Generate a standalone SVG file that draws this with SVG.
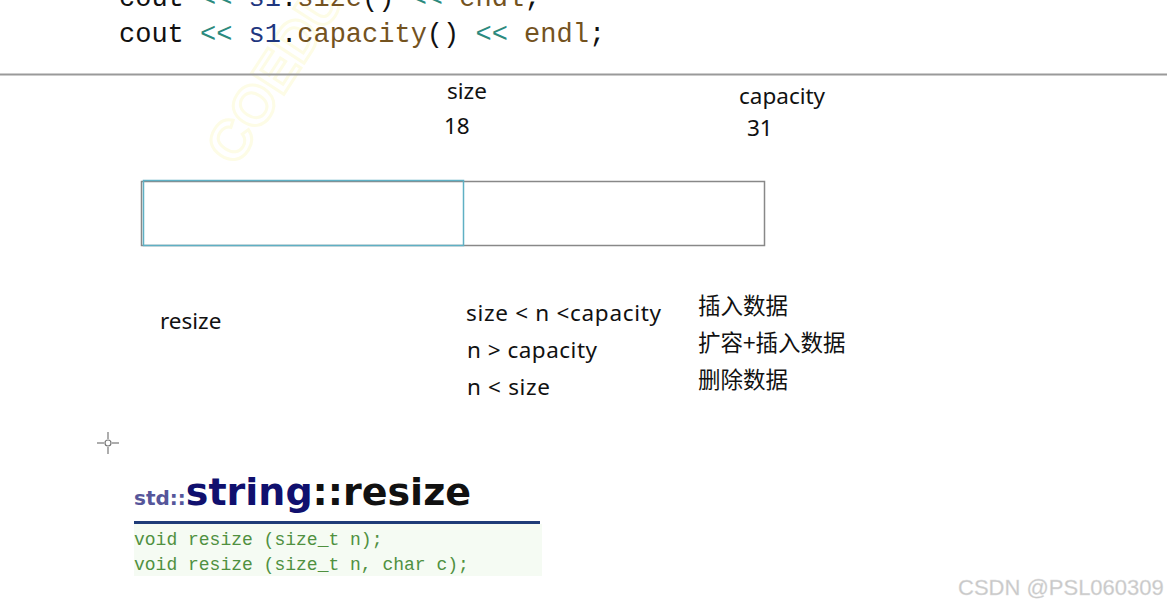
<svg xmlns="http://www.w3.org/2000/svg" width="1167" height="607" viewBox="0 0 1167 607">
<style>
.code{font-family:"Liberation Mono","DejaVu Sans Mono",monospace;font-size:27px}
.k{fill:#111}.op{fill:#2b8a7e}.v{fill:#1f377f}.f{fill:#74531f}
.lbl{font-family:"Noto Sans","Open Sans","Liberation Sans",sans-serif;font-size:22.5px;fill:#111}
.cn{font-family:"Noto Sans CJK SC","Noto Sans",sans-serif;font-size:22.5px;fill:#111}
.sig{font-family:"Liberation Mono","Courier New",monospace;font-size:18px;fill:#4f9040}
</style>
<rect width="1167" height="607" fill="#ffffff"/>
<text x="0" y="0" transform="translate(236,168) rotate(-57)" font-family="Liberation Sans,sans-serif" font-weight="bold" font-size="56" fill="none" stroke="#fdfce6" stroke-width="3">COEDU</text>
<g id="code">
<text class="code" x="119" y="6" xml:space="preserve"><tspan class="k">cout </tspan><tspan class="op">&lt;&lt;</tspan><tspan class="v"> s1</tspan><tspan class="k">.</tspan><tspan class="f">size</tspan><tspan class="k">() </tspan><tspan class="op">&lt;&lt;</tspan><tspan class="f"> endl</tspan><tspan class="k">;</tspan></text>
<text class="code" x="119" y="42" xml:space="preserve"><tspan class="k">cout </tspan><tspan class="op">&lt;&lt;</tspan><tspan class="v"> s1</tspan><tspan class="k">.</tspan><tspan class="f">capacity</tspan><tspan class="k">() </tspan><tspan class="op">&lt;&lt;</tspan><tspan class="f"> endl</tspan><tspan class="k">;</tspan></text>
</g>
<line x1="0" y1="74.5" x2="1167" y2="74.5" stroke="#9a9a9a" stroke-width="2"/>
<g id="labels">
<text class="lbl" x="447" y="99">size</text>
<text class="lbl" x="444" y="134">18</text>
<text class="lbl" x="739" y="104">capacity</text>
<text class="lbl" x="747" y="136">31</text>
</g>
<g id="buffer">
<rect x="141.5" y="181.5" width="623" height="64" fill="none" stroke="#888888" stroke-width="1.5"/>
<rect x="143.5" y="180.5" width="320" height="65" fill="none" stroke="#5fb0c4" stroke-width="1.5"/>
</g>
<g id="cases">
<text class="lbl" x="160" y="329">resize</text>
<text class="lbl" x="466" y="321" textLength="195" lengthAdjust="spacing">size &lt; n &lt;capacity</text>
<text class="lbl" x="467" y="358" textLength="130" lengthAdjust="spacing">n &gt; capacity</text>
<text class="lbl" x="467" y="395" textLength="83" lengthAdjust="spacing">n &lt; size</text>
<text class="cn" x="698" y="314">插入数据</text>
<text class="cn" x="698" y="351">扩容+插入数据</text>
<text class="cn" x="698" y="388">删除数据</text>
</g>
<g id="cursor" stroke="#777" stroke-width="1.2" fill="none">
<line x1="97" y1="443" x2="104" y2="443"/><line x1="112" y1="443" x2="119" y2="443"/>
<line x1="108" y1="432" x2="108" y2="439"/><line x1="108" y1="447" x2="108" y2="454"/>
<circle cx="108" cy="443" r="3"/>
</g>
<g id="doc">
<rect x="134" y="524" width="408" height="52" fill="#f5fbf3"/>
<text x="134" y="505" font-family="DejaVu Sans,Verdana,sans-serif" font-weight="bold"><tspan font-size="20" fill="#56569a">std::</tspan><tspan font-size="38" fill="#10106e">string</tspan><tspan font-size="38" fill="#111">::resize</tspan></text>
<line x1="134" y1="522.5" x2="540" y2="522.5" stroke="#1f3c78" stroke-width="3"/>
<text class="sig" x="134" y="545" xml:space="preserve">void resize (size_t n);</text>
<text class="sig" x="134" y="570" xml:space="preserve">void resize (size_t n, char c);</text>
</g>
<text x="958" y="595" font-family="Liberation Sans,Arial,sans-serif" font-size="22" fill="#c8c8c8" stroke="#e0e0e0" stroke-width="0.3">CSDN @PSL060309</text>
</svg>
